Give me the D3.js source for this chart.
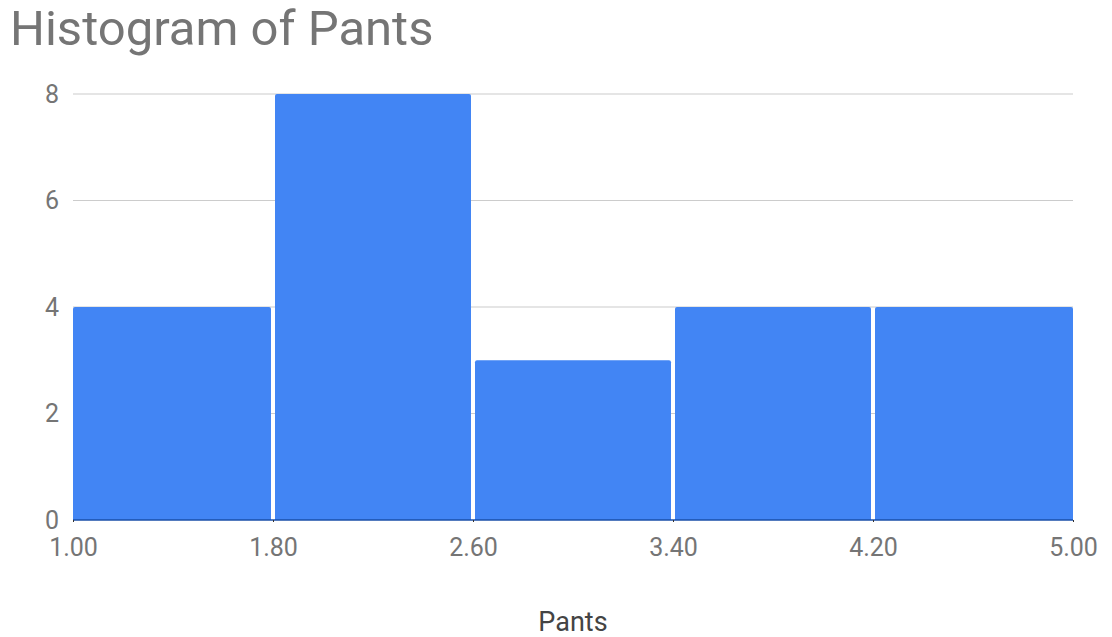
<!DOCTYPE html>
<html>
<head>
<meta charset="utf-8">
<script src="https://cdn.jsdelivr.net/npm/d3@7"></script>
<style>
  body { margin: 0; background: #fff; }
  svg { display: block; font-family: Roboto, "Noto Sans", sans-serif; }
</style>
</head>
<body>
<svg id="chart" width="1112" height="637"></svg>
<script>
// Histogram bins of the "Pants" column: lower edge, upper edge, count
const binStarts = [1.0, 1.8, 2.6, 3.4, 4.2];
const binEnds   = [1.8, 2.6, 3.4, 4.2, 5.0];
const counts    = [4, 8, 3, 4, 4];
const xTicks    = [1.0, 1.8, 2.6, 3.4, 4.2, 5.0];
const yTicks    = [0, 2, 4, 6, 8];

const svg = d3.select("#chart");
const margin = { left: 73, right: 39, top: 94, bottom: 117 };
const W = 1112, H = 637;

const x = d3.scaleLinear().domain([1.0, 5.0]).range([margin.left, W - margin.right]);
const y = d3.scaleLinear().domain([0, 8]).range([H - margin.bottom, margin.top]);

// Title
svg.append("text")
  .attr("x", 10).attr("y", 45)
  .attr("font-size", 49)
  .attr("fill", "#757575")
  .text("Histogram of Pants");

// Horizontal gridlines
svg.append("g")
  .selectAll("line")
  .data(yTicks.filter(d => d !== 0))
  .join("line")
  .attr("x1", x(1.0)).attr("x2", x(5.0))
  .attr("y1", d => y(d)).attr("y2", d => y(d))
  .attr("stroke", "#cccccc").attr("stroke-width", 1.2);

// Y axis labels
const yAxis = d3.axisLeft(y).tickValues(yTicks).tickSize(0).tickPadding(14).tickFormat(d3.format("d"));
svg.append("g")
  .attr("transform", `translate(${x(1.0)},0)`)
  .call(yAxis)
  .call(g => g.select(".domain").remove())
  .call(g => g.selectAll("text").attr("font-size", 25).attr("fill", "#757575")
    .attr("font-family", "Roboto, sans-serif"));

// Bars
const bins = binStarts.map((s, i) => ({ x0: s, x1: binEnds[i], n: counts[i] }));
const gap = 2;
svg.append("g")
  .selectAll("path")
  .data(bins)
  .join("path")
  .attr("fill", "#4285f4")
  .attr("d", d => {
    const x0 = x(d.x0) + (d.x0 === 1.0 ? 0 : gap);
    const x1 = x(d.x1) - (d.x1 === 5.0 ? 0 : gap);
    const y0 = y(d.n), yb = y(0);
    const r = 2;
    return `M${x0},${yb} V${y0 + r} Q${x0},${y0} ${x0 + r},${y0} H${x1 - r} Q${x1},${y0} ${x1},${y0 + r} V${yb} Z`;
  });

// Baseline
svg.append("line")
  .attr("x1", x(1.0)).attr("x2", x(5.0))
  .attr("y1", y(0)).attr("y2", y(0))
  .attr("stroke", "#1a4fa8").attr("stroke-width", 1.5);

// X axis labels and small ticks at bin edges
const xAxis = d3.axisBottom(x).tickValues(xTicks).tickSize(2).tickPadding(16).tickFormat(d3.format(".2f"));
svg.append("g")
  .attr("transform", `translate(0,${y(0)})`)
  .call(xAxis)
  .call(g => g.select(".domain").remove())
  .call(g => g.selectAll("line").attr("stroke", "#333"))
  .call(g => g.selectAll("text").attr("font-size", 25).attr("fill", "#757575")
    .attr("font-family", "Roboto, sans-serif"));

// X axis title
svg.append("text")
  .attr("x", 573).attr("y", 631)
  .attr("text-anchor", "middle")
  .attr("font-size", 27)
  .attr("fill", "#444444")
  .text("Pants");
</script>
</body>
</html>
